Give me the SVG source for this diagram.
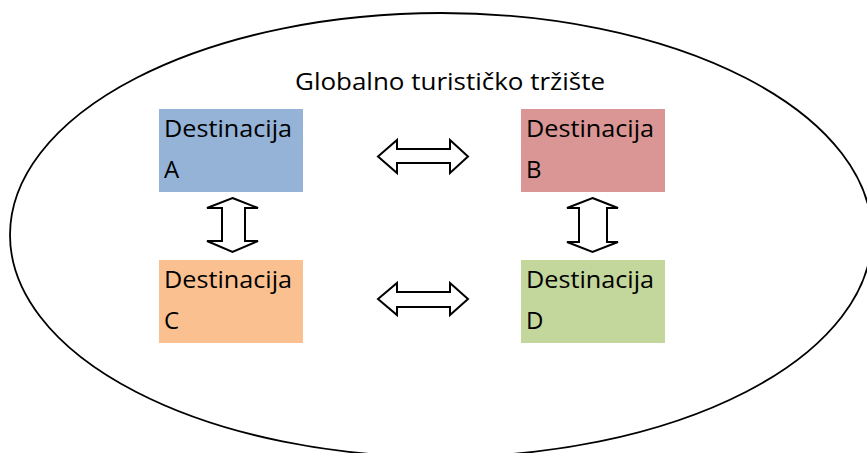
<svg xmlns="http://www.w3.org/2000/svg" width="867" height="453" viewBox="0 0 867 453">
<style>
.t{font-family:"Open Sans","Noto Sans","Liberation Sans",sans-serif;font-size:24px;fill:#000}
.arr{fill:#fff;stroke:#000;stroke-width:2;stroke-linejoin:miter}
</style>
<rect width="867" height="453" fill="#fff"/>
<g id="market">
<ellipse cx="441" cy="235" rx="431" ry="222" fill="none" stroke="#000" stroke-width="1.8"/>
<text class="t" x="295" y="90" textLength="310" lengthAdjust="spacingAndGlyphs">Globalno turističko tržište</text>
</g>
<g id="destA">
<rect x="159" y="109" width="144" height="83" fill="#95B3D7"/>
<text class="t" x="164" y="137" textLength="128" lengthAdjust="spacingAndGlyphs">Destinacija</text>
<text class="t" x="164" y="178">A</text>
</g>
<g id="destB">
<rect x="521" y="109" width="144" height="83" fill="#D99694"/>
<text class="t" x="526" y="137" textLength="128" lengthAdjust="spacingAndGlyphs">Destinacija</text>
<text class="t" x="526" y="178">B</text>
</g>
<g id="destC">
<rect x="159" y="260" width="144" height="83" fill="#FAC090"/>
<text class="t" x="164" y="288" textLength="128" lengthAdjust="spacingAndGlyphs">Destinacija</text>
<text class="t" x="164" y="329">C</text>
</g>
<g id="destD">
<rect x="521" y="260" width="144" height="83" fill="#C3D69B"/>
<text class="t" x="526" y="288" textLength="128" lengthAdjust="spacingAndGlyphs">Destinacija</text>
<text class="t" x="526" y="329">D</text>
</g>
<g id="connectors">
<path class="arr" d="M378,156.5 L397,140 L397,149 L450,149 L450,140 L468,156.5 L450,173 L450,163 L397,163 L397,173 Z"/>
<path class="arr" d="M378,299 L397,283 L397,292 L450,292 L450,283 L468,299 L450,315 L450,307 L397,307 L397,315 Z"/>
<path class="arr" d="M232.5,198 L258,208 L245,208 L245,241 L258,241 L232.5,252 L207,241 L222,241 L222,208 L207,208 Z"/>
<path class="arr" d="M592.5,198 L618,208 L607,208 L607,242 L618,242 L592.5,252 L567,242 L579,242 L579,208 L567,208 Z"/>
</g>
</svg>
